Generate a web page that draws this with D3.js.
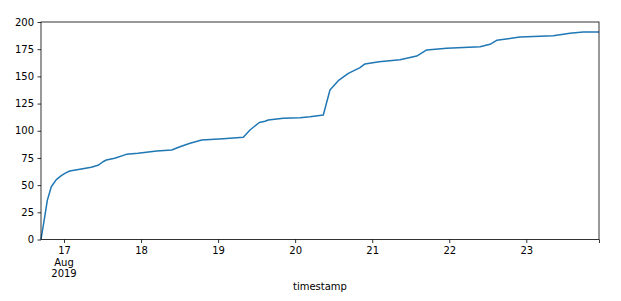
<!DOCTYPE html>
<html>
<head>
<meta charset="utf-8">
<script src="https://cdn.jsdelivr.net/npm/d3@7"></script>
<style>
body { margin: 0; background: #fff; }
text { font-family: "DejaVu Sans", sans-serif; font-size: 10px; fill: #000; }
</style>
</head>
<body>
<div id="workspace"></div>
<script>
// data
var timestamps = [
	"2019-08-16 16:50", "2019-08-16 18:00", "2019-08-16 18:48", "2019-08-16 20:02",
	"2019-08-16 21:36", "2019-08-16 23:10", "2019-08-17 00:24", "2019-08-17 01:47",
	"2019-08-17 05:23", "2019-08-17 08:30", "2019-08-17 10:35", "2019-08-17 12:09",
	"2019-08-17 13:11", "2019-08-17 15:47", "2019-08-17 19:24", "2019-08-17 23:03",
	"2019-08-18 04:53", "2019-08-18 09:33", "2019-08-18 12:08", "2019-08-18 15:15",
	"2019-08-18 18:54", "2019-08-19 01:37", "2019-08-19 07:51", "2019-08-19 09:56",
	"2019-08-19 12:50", "2019-08-19 14:37", "2019-08-19 15:38", "2019-08-19 20:18",
	"2019-08-20 01:30", "2019-08-20 04:38", "2019-08-20 08:46", "2019-08-20 10:51",
	"2019-08-20 13:26", "2019-08-20 16:34", "2019-08-20 20:12", "2019-08-20 21:46",
	"2019-08-21 02:07", "2019-08-21 08:40", "2019-08-21 13:52", "2019-08-21 16:59",
	"2019-08-21 23:13", "2019-08-22 09:36", "2019-08-22 12:42", "2019-08-22 14:47",
	"2019-08-22 22:02", "2019-08-23 08:24", "2019-08-23 13:36", "2019-08-23 17:45",
	"2019-08-23 22:39"
];
var counts = [
	0, 21, 36, 48.5,
	55, 58.7, 61, 63,
	64.8, 66.4, 68.2, 71.5,
	73.1, 74.7, 78.3, 79.3,
	81.4, 82.3, 85.3, 88.5,
	91.5, 92.7, 94, 100.7,
	107.6, 108.7, 109.9, 111.4,
	112, 112.9, 114.5, 137.5,
	146, 152.8, 158, 161.4,
	163.5, 165.3, 168.7, 174.3,
	175.8, 177.3, 179.5, 183.2,
	186.2, 187.4, 189.6, 190.8,
	190.8
];
var yTicks = [0, 25, 50, 75, 100, 125, 150, 175, 200];
var dayTicks = ["2019-08-17", "2019-08-18", "2019-08-19", "2019-08-20", "2019-08-21", "2019-08-22", "2019-08-23"];

var parseTime = d3.timeParse("%Y-%m-%d %H:%M");
var parseDay = d3.timeParse("%Y-%m-%d");
var data = timestamps.map(function(t, i) { return { t: parseTime(t), v: counts[i] }; });

var svg = d3.select("#workspace")
	.append("svg")
	.attr("width", 621)
	.attr("height", 301);

var plotLeft = 41, plotRight = 599, plotTop = 22, plotBottom = 239.5;

var x = d3.scaleTime()
	.domain(d3.extent(data, function(d) { return d.t; }))
	.range([plotLeft, plotRight]);
var y = d3.scaleLinear()
	.domain([0, 200])
	.range([plotBottom, plotTop]);

// line
var line = d3.line()
	.x(function(d) { return x(d.t); })
	.y(function(d) { return y(d.v); });
svg.append("path")
	.datum(data)
	.attr("d", line)
	.attr("fill", "none")
	.attr("stroke", "#1f77b4")
	.attr("stroke-width", 1.5)
	.attr("stroke-linejoin", "round");

// y axis
var yAxis = svg.append("g")
	.attr("transform", "translate(" + plotLeft + ",0)")
	.call(d3.axisLeft(y).tickValues(yTicks).tickSize(3.5).tickPadding(3.5));

// x axis
var xTickDates = dayTicks.map(parseDay);
xTickDates.push(x.domain()[1]);
var xAxis = svg.append("g")
	.attr("transform", "translate(0," + plotBottom + ")")
	.call(d3.axisBottom(x).tickValues(xTickDates).tickSize(3.5).tickPadding(3.5)
		.tickFormat(function(d, i) { return i < dayTicks.length ? d3.timeFormat("%-d")(d) : ""; }));

[xAxis, yAxis].forEach(function(g) {
	g.select(".domain").remove();
	g.selectAll(".tick line").attr("stroke", "#000").attr("stroke-width", 0.8);
	g.selectAll(".tick text").attr("font-size", "10px").attr("font-family", "DejaVu Sans, sans-serif").attr("fill", "#000");
});

// month / year under first day tick
var first = x(xTickDates[0]);
svg.append("text").attr("x", first).attr("y", 266).attr("text-anchor", "middle").text("Aug");
svg.append("text").attr("x", first).attr("y", 277).attr("text-anchor", "middle").text("2019");

// frame
svg.append("rect")
	.attr("x", plotLeft)
	.attr("y", plotTop)
	.attr("width", plotRight - plotLeft)
	.attr("height", plotBottom - plotTop)
	.attr("fill", "none")
	.attr("stroke", "#000")
	.attr("stroke-width", 0.8);

svg.append("text")
	.attr("x", (plotLeft + plotRight) / 2)
	.attr("y", 290)
	.attr("text-anchor", "middle")
	.text("timestamp");
</script>
</body>
</html>
